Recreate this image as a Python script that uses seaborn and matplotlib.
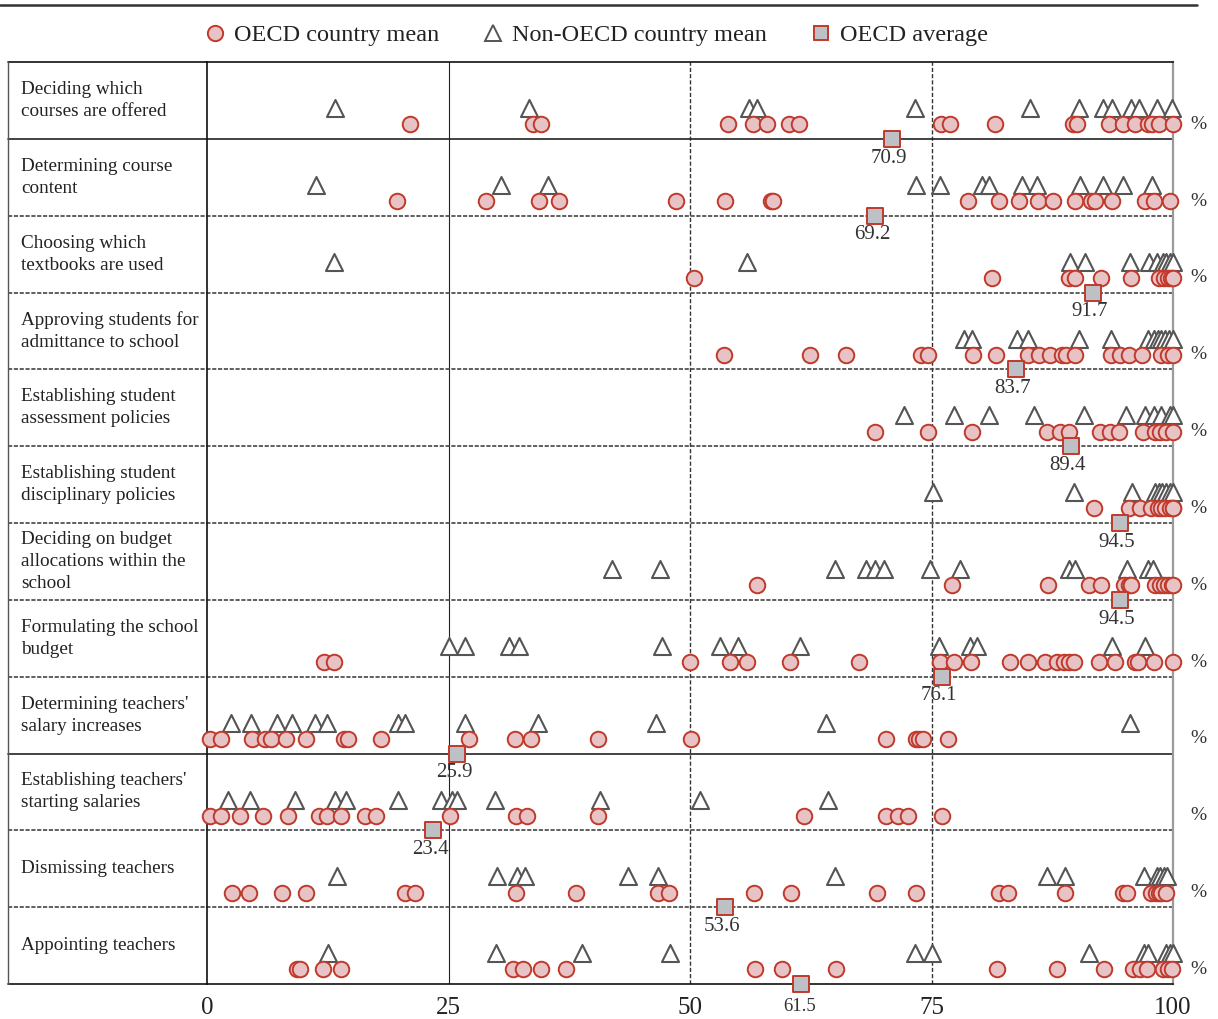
import matplotlib
matplotlib.use("Agg")
import matplotlib.pyplot as plt
from matplotlib.lines import Line2D
import seaborn as sns
import pandas as pd

row_labels = [
    "Deciding which\ncourses are offered",
    "Determining course\ncontent",
    "Choosing which\ntextbooks are used",
    "Approving students for\nadmittance to school",
    "Establishing student\nassessment policies",
    "Establishing student\ndisciplinary policies",
    "Deciding on budget\nallocations within the\nschool",
    "Formulating the school\nbudget",
    "Determining teachers'\nsalary increases",
    "Establishing teachers'\nstarting salaries",
    "Dismissing teachers",
    "Appointing teachers",
]

oecd_country_means = [
    [21.0, 33.7, 34.6, 53.9, 56.5, 58.0, 60.3, 61.3, 76.0, 76.9, 81.6, 89.6, 90.1, 93.4, 94.8, 96.1, 97.4, 97.8, 98.6, 100.0],
    [19.7, 28.9, 34.4, 36.4, 48.6, 53.6, 58.4, 58.6, 78.8, 82.0, 84.1, 86.0, 87.6, 89.9, 91.5, 91.9, 93.7, 97.1, 98.0, 99.7],
    [50.4, 81.3, 89.2, 89.9, 92.5, 95.7, 98.6, 99.1, 99.5, 99.8, 100.0],
    [53.5, 62.4, 66.1, 73.9, 74.6, 79.3, 81.7, 85.0, 86.1, 87.3, 88.5, 88.9, 89.9, 93.6, 94.5, 95.4, 96.8, 98.8, 99.5, 100.0],
    [69.2, 74.6, 79.2, 87.0, 88.3, 89.2, 92.4, 93.5, 94.4, 96.9, 98.1, 98.7, 99.3, 100.0],
    [91.8, 95.4, 96.6, 97.7, 98.4, 98.8, 99.2, 99.7, 100.0, 100.0],
    [56.9, 77.1, 87.1, 91.3, 92.5, 94.9, 95.4, 95.7, 98.1, 98.7, 99.1, 99.5, 99.9, 100.0],
    [12.1, 13.1, 50.0, 54.1, 55.9, 60.4, 67.5, 75.9, 77.3, 79.1, 83.1, 85.0, 86.8, 88.0, 88.7, 89.2, 89.8, 92.3, 94.0, 96.1, 96.4, 98.0, 100.0],
    [0.3, 1.4, 4.7, 6.0, 6.6, 8.2, 10.3, 14.2, 14.6, 18.0, 27.1, 31.9, 33.5, 40.5, 50.1, 70.3, 73.4, 73.7, 74.1, 76.7],
    [0.3, 1.5, 3.4, 5.8, 8.4, 11.6, 12.4, 13.9, 16.4, 17.5, 25.2, 32.0, 33.1, 40.5, 61.8, 70.3, 71.5, 72.6, 76.1],
    [2.6, 4.3, 7.8, 10.2, 20.5, 21.5, 32.0, 38.2, 46.7, 47.8, 56.6, 60.5, 69.4, 73.4, 82.0, 82.9, 88.8, 94.8, 95.2, 97.7, 98.2, 98.5, 98.8, 99.3],
    [9.3, 9.6, 12.0, 13.9, 31.7, 32.7, 34.6, 37.2, 56.7, 59.5, 65.1, 81.8, 88.0, 92.9, 95.9, 96.6, 97.3, 99.0, 99.5, 99.9],
]

non_oecd_country_means = [
    [13.3, 33.3, 56.1, 56.9, 73.3, 85.2, 90.3, 92.8, 93.7, 95.7, 96.5, 98.3, 99.9],
    [11.3, 30.4, 35.3, 73.4, 75.9, 80.2, 81.0, 84.4, 85.9, 90.4, 92.8, 94.8, 97.8],
    [13.1, 55.9, 89.3, 90.9, 95.6, 97.5, 98.3, 99.0, 99.3, 99.7, 100.0],
    [78.4, 79.2, 83.8, 85.0, 90.3, 93.6, 97.4, 98.0, 98.4, 98.8, 99.2, 99.6, 100.0],
    [72.2, 77.3, 81.0, 85.6, 90.8, 95.1, 97.1, 98.0, 98.8, 99.7, 100.0],
    [75.2, 89.7, 95.8, 98.1, 98.5, 98.9, 99.3, 99.7, 100.0],
    [41.9, 46.9, 65.0, 68.2, 69.2, 70.1, 74.8, 77.9, 89.2, 89.9, 95.2, 97.4, 97.9],
    [25.1, 26.7, 31.3, 32.3, 47.1, 53.1, 55.0, 61.4, 75.8, 79.0, 79.7, 93.7, 97.1],
    [2.5, 4.6, 7.2, 8.8, 11.2, 12.4, 19.8, 20.5, 26.7, 34.3, 46.5, 64.1, 95.6],
    [2.2, 4.5, 9.1, 13.3, 14.4, 19.8, 24.2, 25.4, 25.9, 29.8, 40.7, 51.0, 64.3],
    [13.5, 30.0, 32.1, 32.9, 43.6, 46.7, 65.0, 87.0, 88.8, 97.0, 98.3, 98.7, 99.1, 99.4],
    [12.5, 29.9, 38.8, 47.9, 73.3, 75.0, 91.3, 97.0, 97.4, 99.3, 99.7, 100.0],
]

oecd_average = [70.9, 69.2, 91.7, 83.7, 89.4, 94.5, 94.5, 76.1, 25.9, 23.4, 53.6, 61.5]

x_ticks = [0, 25, 50, 75, 100]

# ---- styling ----
RED = "#C0392B"
PINK = "#E8C3C5"
TRI = "#555555"
SQ = "#BDC0C5"
TXT = "#222222"

sns.set_theme(style="white")
plt.rcParams['font.family'] = ['Liberation Serif', 'DejaVu Serif']

W, H = 1218, 1019
fig = plt.figure(figsize=(W / 100, H / 100), dpi=100)
ax_left, ax_right, ax_top, ax_bot = 207, 1173, 62, 984
ax = fig.add_axes([ax_left / W, 1 - ax_bot / H, (ax_right - ax_left) / W, (ax_bot - ax_top) / H])

TRI_OFF, CIR_OFF = 0.60, 0.81

recs = []
for i in range(len(row_labels)):
    for v in oecd_country_means[i]:
        recs.append({"row": i, "value": v, "series": "OECD country mean", "y": i + CIR_OFF})
    for v in non_oecd_country_means[i]:
        recs.append({"row": i, "value": v, "series": "Non-OECD country mean", "y": i + TRI_OFF})
    recs.append({"row": i, "value": oecd_average[i], "series": "OECD average", "y": i + 1.0})
df = pd.DataFrame(recs)

sns.scatterplot(data=df[df.series == "Non-OECD country mean"], x="value", y="y", marker="^",
                s=150, color="white", edgecolor=TRI, linewidth=1.5, ax=ax, legend=False, zorder=3,
                clip_on=False)
sns.scatterplot(data=df[df.series == "OECD country mean"], x="value", y="y", marker="o",
                s=125, color=PINK, edgecolor=RED, linewidth=1.4, ax=ax, legend=False, zorder=4,
                clip_on=False)
sns.scatterplot(data=df[df.series == "OECD average"], x="value", y="y", marker="s",
                s=120, color=SQ, edgecolor=RED, linewidth=1.4, ax=ax, legend=False, zorder=6,
                clip_on=False)

ax.set_xlim(0, 100)
ax.set_ylim(12, 0)
ax.set_xlabel("")
ax.set_ylabel("")
ax.set_yticks([])
ax.set_xticks(x_ticks)
ax.set_xticklabels([str(t) for t in x_ticks], fontsize=18, color=TXT)
ax.tick_params(axis="x", length=0, pad=9)

for s in ["left", "top", "bottom"]:
    ax.spines[s].set_color("#111111")
    ax.spines[s].set_linewidth(1.2)
ax.spines["right"].set_color("#9a9a9a")
ax.spines["right"].set_linewidth(1.6)

ax.axvline(25, color="#222222", lw=0.8, zorder=1)
ax.axvline(50, color="#333333", lw=1.0, ls=(0, (3, 1.5)), zorder=1)
ax.axvline(75, color="#333333", lw=1.0, ls=(0, (3, 1.5)), zorder=1)

col_left = (8 - ax_left) / (ax_right - ax_left)
ytr = ax.get_yaxis_transform()
solid_rows = {1, 9}
for k in range(1, 12):
    if k in solid_rows:
        ax.plot([col_left, 1], [k, k], transform=ytr, color="#222222", lw=1.2, clip_on=False, zorder=2)
    else:
        ax.plot([col_left, 1], [k, k], transform=ytr, color="#444444", lw=1.2,
                ls=(0, (2.5, 1)), clip_on=False, zorder=2)
ax.plot([col_left, 0], [0, 0], transform=ytr, color="#111111", lw=1.2, clip_on=False)
ax.plot([col_left, 0], [12, 12], transform=ytr, color="#111111", lw=1.2, clip_on=False)
ax.plot([col_left, col_left], [0, 12], transform=ytr, color="#555555", lw=1.0, clip_on=False)

text_x = (21 - ax_left) / (ax_right - ax_left)
pct_x = (1198 - ax_left) / (ax_right - ax_left)
for i, lab in enumerate(row_labels):
    ax.text(text_x, i + 0.5, lab, transform=ytr, ha="left", va="center", fontsize=13.8,
            color=TXT, linespacing=1.38)
    ax.text(pct_x, i + CIR_OFF, "%", transform=ytr, ha="center", va="center", fontsize=14,
            color="#333333")
    if i < len(row_labels) - 1:
        ax.text(oecd_average[i] - 0.3, i + 1.25, f"{oecd_average[i]:.1f}", ha="center", va="center",
                fontsize=15, color="#333333", zorder=7)
    else:
        ax.text(oecd_average[i] - 0.1, i + 1.29, f"{oecd_average[i]:.1f}", ha="center", va="center",
                fontsize=13.5, color="#333333", zorder=7, clip_on=False)

# top rule
fig.add_artist(Line2D([0, 1197 / W], [1 - 5 / H, 1 - 5 / H], color="#333333", lw=1.8))

handles = [
    Line2D([], [], ls="", marker="o", markersize=11, markerfacecolor=PINK, markeredgecolor=RED, markeredgewidth=1.4),
    Line2D([], [], ls="", marker="^", markersize=11, markerfacecolor="white", markeredgecolor=TRI, markeredgewidth=1.4),
    Line2D([], [], ls="", marker="s", markersize=10, markerfacecolor=SQ, markeredgecolor=RED, markeredgewidth=1.4),
]
fig.legend(handles, ["OECD country mean", "Non-OECD country mean", "OECD average"],
           loc="center", bbox_to_anchor=(596 / W, 1 - 35 / H), ncol=3, frameon=False,
           fontsize=17.5, handlelength=0.9, handletextpad=0.35, columnspacing=1.75, labelcolor=TXT)

fig.savefig("out.png", dpi=100)
